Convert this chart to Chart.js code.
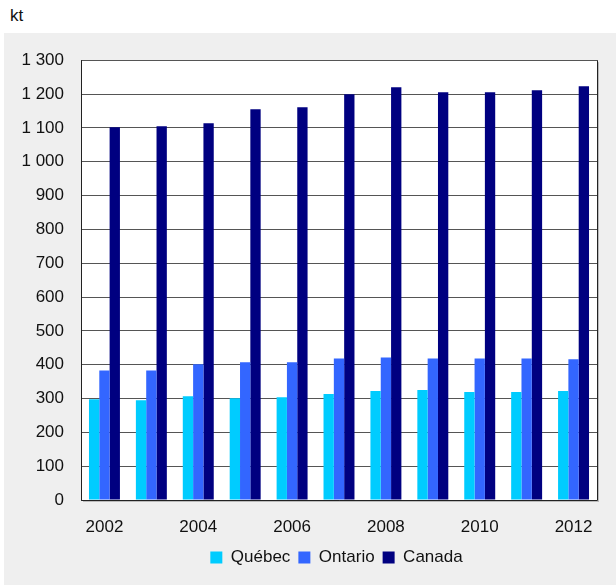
<!DOCTYPE html>
<html>
<head>
<meta charset="utf-8">
<script src="https://cdn.jsdelivr.net/npm/chart.js@4/dist/chart.umd.min.js"></script>
<style>
  body { margin: 0; background: #fff; font-family: "Liberation Sans", Arial, sans-serif; }
  #unit { position: absolute; left: 10px; top: 6px; font-size: 17px; color: #111; }
  #box { position: absolute; left: 4px; top: 33px; width: 612px; height: 552px; background: #efefef; }
</style>
</head>
<body>
<div id="unit">kt</div>
<div id="box"><canvas id="chart" width="612" height="552"></canvas></div>
<script>
const years = ['2002', '2003', '2004', '2005', '2006', '2007', '2008', '2009', '2010', '2011', '2012'];
const quebec = [298, 295, 307, 301, 304, 313, 322, 325, 319, 319, 322];
const ontario = [383, 383, 401, 407, 407, 418, 421, 418, 418, 418, 416];
const canada = [1102, 1105, 1114, 1155, 1161, 1199, 1220, 1205, 1205, 1211, 1223];

const fmt = (v) => String(v).replace(/\B(?=(\d{3})+(?!\d))/g, ' ');

const plotBackground = {
  id: 'plotBackground',
  afterLayout(chart) {
    // legend sits a bit right of centre in the original
    chart.legend.left += 36;
    chart.legend.right += 36;
  },
  beforeDraw(chart) {
    const { ctx, chartArea: a } = chart;
    ctx.save();
    ctx.fillStyle = '#ffffff';
    ctx.fillRect(a.left, a.top, a.right - a.left, a.bottom - a.top);
    ctx.restore();
  },
  afterDatasetsDraw(chart) {
    const { ctx, chartArea: a } = chart;
    ctx.save();
    ctx.strokeStyle = '#222';
    ctx.lineWidth = 1;
    ctx.beginPath();
    ctx.moveTo(a.left + 0.5, a.top);
    ctx.lineTo(a.left + 0.5, a.bottom + 0.5);
    ctx.lineTo(a.right + 0.5, a.bottom + 0.5);
    ctx.lineTo(a.right + 0.5, a.top);
    ctx.stroke();
    ctx.strokeStyle = '#bbb';
    ctx.beginPath();
    ctx.moveTo(a.left + 2, a.bottom + 1.5);
    ctx.lineTo(a.right + 2, a.bottom + 1.5);
    ctx.moveTo(a.right + 1.5, a.top + 2);
    ctx.lineTo(a.right + 1.5, a.bottom + 2);
    ctx.stroke();
    ctx.restore();
  },
};

Chart.defaults.font.family = '"Liberation Sans", Arial, sans-serif';
Chart.defaults.font.size = 17;
Chart.defaults.color = '#111';

new Chart(document.getElementById('chart'), {
  type: 'bar',
  data: {
    labels: years,
    datasets: [
      { label: 'Québec', data: quebec, backgroundColor: '#00ccff' },
      { label: 'Ontario', data: ontario, backgroundColor: '#3366ff' },
      { label: 'Canada', data: canada, backgroundColor: '#000080' },
    ],
  },
  options: {
    responsive: false,
    animation: false,
    datasets: {
      bar: {
        categoryPercentage: 0.66,
        barPercentage: 1,
      },
    },
    layout: {
      padding: { left: 0, right: 19, top: 24, bottom: 9 },
    },
    scales: {
      x: {
        grid: { display: false, drawTicks: false },
        border: { display: false },
        ticks: {
          autoSkip: false,
          maxRotation: 0,
          padding: 17,
          callback: function (value, index) {
            return index % 2 === 0 ? this.getLabelForValue(value) : '';
          },
        },
        afterFit: (scale) => {
          scale.height = 41;
        },
      },
      y: {
        min: 0,
        max: 1300,
        grid: { color: '#555', lineWidth: 1, drawTicks: false },
        border: { display: false },
        ticks: {
          stepSize: 100,
          padding: 17,
          callback: (value) => fmt(value),
        },
        afterFit: (scale) => {
          scale.width = 77;
        },
      },
    },
    plugins: {
      legend: {
        position: 'bottom',
        labels: {
          boxWidth: 12,
          boxHeight: 12,
          padding: 8,
        },
      },
      tooltip: { enabled: false },
    },
  },
  plugins: [plotBackground],
});
</script>
</body>
</html>
